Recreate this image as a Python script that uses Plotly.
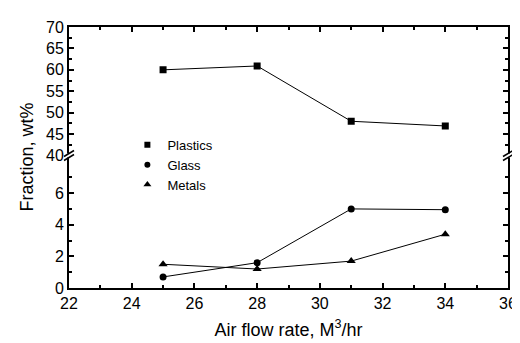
import plotly.graph_objects as go

air_flow = [25, 28, 31, 34]
plastics = [60.0, 60.9, 48.0, 46.9]
glass = [0.7, 1.6, 5.0, 4.95]
metals = [1.5, 1.2, 1.7, 3.4]

FONT = "Liberation Sans, Arial, sans-serif"
split = 0.5076

series = [
    ("Plastics", plastics, "square", 7, "x2", "y2"),
    ("Glass", glass, "circle", 7, "x", "y"),
    ("Metals", metals, "triangle-up", 8, "x", "y"),
]

fig = go.Figure()
for name, vals, sym, sz, xa, ya in series:
    fig.add_trace(go.Scatter(x=air_flow, y=vals, xaxis=xa, yaxis=ya, mode="lines+markers",
                             name=name, showlegend=False, line=dict(color="black", width=1),
                             marker=dict(symbol=sym, size=sz, color="black")))
for name, vals, sym, sz, xa, ya in series:
    fig.add_trace(go.Scatter(x=[None], y=[None], xaxis=xa, yaxis=ya, mode="markers",
                             name=name, marker=dict(symbol=sym, size=sz - 1, color="black")))

axis_common = dict(showline=True, linecolor="black", linewidth=2, ticks="inside",
                   tickcolor="black", tickwidth=1.5, ticklen=5, showgrid=False,
                   zeroline=False, tickfont=dict(family=FONT, size=16, color="black"))

fig.update_layout(
    width=520, height=343,
    margin=dict(l=61, r=11, t=16, b=63),
    paper_bgcolor="white", plot_bgcolor="white",
    font=dict(family=FONT, color="black"),
    showlegend=True,
    legend=dict(x=0.133, y=0.606, xanchor="left", yanchor="top",
                font=dict(family=FONT, size=13, color="black"),
                bgcolor="rgba(0,0,0,0)", tracegroupgap=0, itemwidth=30),
    xaxis=dict(range=[22, 36], dtick=2, anchor="y", mirror=False,
               minor=dict(ticks="inside", dtick=1, ticklen=3, tickcolor="black"),
               title=dict(text="Air flow rate, M<sup>3</sup>/hr",
                          font=dict(family=FONT, size=18, color="black"), standoff=12),
               **axis_common),
    xaxis2=dict(range=[22, 36], dtick=2, anchor="y2", side="top", matches="x",
                showticklabels=False,
                minor=dict(ticks="inside", dtick=1, ticklen=3, tickcolor="black"),
                **axis_common),
    yaxis=dict(domain=[0, split], range=[0, 8.375], tickvals=[0, 2, 4, 6], mirror="ticks",
               minor=dict(ticks="inside", tickvals=[1, 3, 5, 7], ticklen=3, tickcolor="black"),
               **axis_common),
    yaxis2=dict(domain=[split, 1], range=[40, 70], dtick=5, mirror="ticks", anchor="x2",
                minor=dict(ticks="inside", dtick=2.5, ticklen=3, tickcolor="black"),
                **axis_common),
)

fig.add_annotation(text="Fraction, wt%", xref="paper", yref="paper", x=0, y=0.5,
                   xanchor="center", yanchor="middle",
                   xshift=-43, textangle=-90, showarrow=False,
                   font=dict(family=FONT, size=18, color="black"))

# axis break marks
for xp in (0, 1):
    fig.add_shape(type="rect", xref="paper", yref="paper", xsizemode="pixel", ysizemode="pixel",
                  xanchor=xp, yanchor=split, x0=-3, x1=3, y0=-2, y1=2,
                  fillcolor="white", line=dict(width=0))
    for dy in (-2, 2):
        fig.add_shape(type="line", xref="paper", yref="paper", xsizemode="pixel", ysizemode="pixel",
                      xanchor=xp, yanchor=split, x0=-5, x1=5, y0=dy - 3, y1=dy + 3,
                      line=dict(color="black", width=1.5))

fig.write_html("out.html")
